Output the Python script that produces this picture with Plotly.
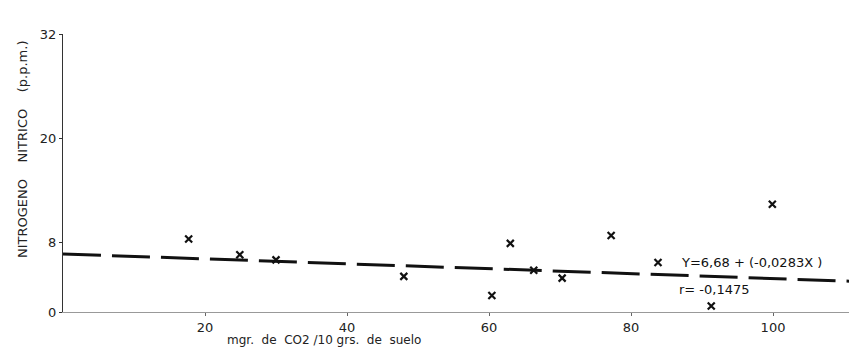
import plotly.graph_objects as go

# Data
co2_x = [17.7, 24.9, 30.0, 48.0, 60.4, 63.0, 66.3, 70.3, 77.2, 83.8, 91.3, 99.9]
nitrico_y = [8.4, 6.6, 6.0, 4.1, 1.9, 7.9, 4.8, 3.9, 8.8, 5.7, 0.7, 12.4]

# Regression line Y = 6.68 + (-0.0283 X), endpoints
reg_x = [0, 110.7]
reg_y = [6.68, 3.55]

x_ticks = [20, 40, 60, 80, 100]
y_ticks = [0, 8, 20, 32]

FONT = "DejaVu Sans"

fig = go.Figure()
fig.add_trace(go.Scatter(
    x=reg_x, y=reg_y, mode="lines",
    line=dict(color="#111111", width=3, dash="38px,11px"),
    hoverinfo="skip", showlegend=False,
))
fig.add_trace(go.Scatter(
    x=co2_x, y=nitrico_y, mode="markers",
    marker=dict(symbol="x-thin", size=7, line=dict(color="#111111", width=2.2)),
    showlegend=False,
))

fig.add_annotation(x=86.8, y=4.25, xref="x", yref="y", xanchor="left", yanchor="bottom",
                   yshift=3, text="Y=6,68 + (-0,0283X )", showarrow=False,
                   font=dict(family=FONT, size=13, color="#111"))
fig.add_annotation(x=86.5, y=4.1, xref="x", yref="y", xanchor="left", yanchor="top",
                   yshift=-4, text="r= -0,1475", showarrow=False,
                   font=dict(family=FONT, size=13, color="#111"))

# axis titles as positioned annotations
fig.add_annotation(x=225, y=340, xref="paper", yref="paper", text="mgr.  de  CO2 /10 grs.  de  suelo",
                   showarrow=False, xanchor="left", yanchor="middle",
                   font=dict(family=FONT, size=12, color="#222"))
fig.add_annotation(x=22, y=150, xref="paper", yref="paper", text="NITROGENO    NITRICO    (p.p.m.)",
                   showarrow=False, textangle=-90, xanchor="center", yanchor="middle",
                   font=dict(family=FONT, size=13, color="#222"))

L, R, T, B = 63, 0, 34, 38
W, H = 849, 350
# convert pixel positions of the two title annotations into paper coordinates
for ann in fig.layout.annotations[2:]:
    ann.x = (ann.x - L) / (W - L - R)
    ann.y = 1 - (ann.y - T) / (H - T - B)

fig.update_layout(
    width=W, height=H,
    margin=dict(l=L, r=R, t=T, b=B),
    paper_bgcolor="white", plot_bgcolor="white",
    font=dict(family=FONT, size=13, color="#222"),
    xaxis=dict(range=[0, 110.7], tickvals=x_ticks, ticktext=[str(v) for v in x_ticks],
               showgrid=False, zeroline=False, showline=True, linecolor="#999", linewidth=1,
               ticks="outside", ticklen=3, tickcolor="#666"),
    yaxis=dict(range=[0, 32], tickvals=y_ticks, ticktext=[str(v) for v in y_ticks],
               showgrid=False, zeroline=False, showline=True, linecolor="#333", linewidth=1,
               ticks="outside", ticklen=3, tickcolor="#333"),
)

fig.write_html("out.html")
